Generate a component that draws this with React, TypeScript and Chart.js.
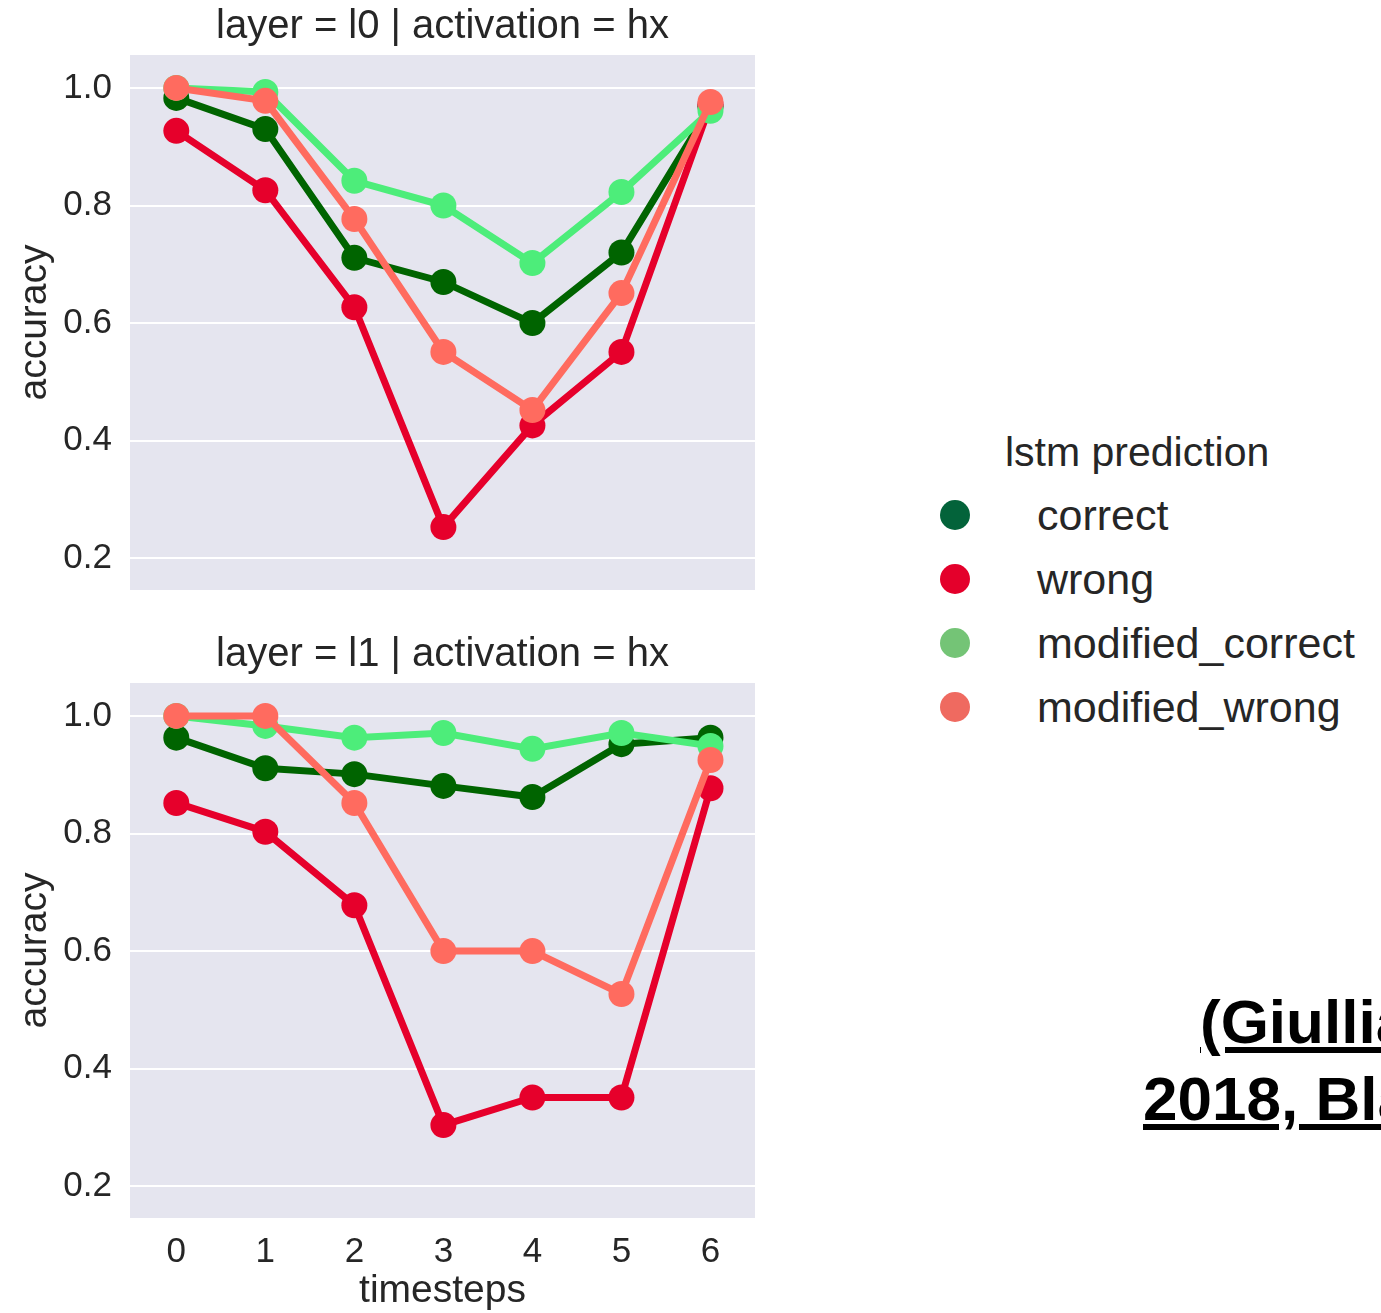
import React, { useEffect, useRef } from "react";
import { Chart, registerables } from "chart.js";

Chart.register(...registerables);

// ---------- data ----------
const timesteps = [0, 1, 2, 3, 4, 5, 6];
const seriesNames = ["correct", "wrong", "modified_correct", "modified_wrong"];
const panelTitles = ["layer = l0 | activation = hx", "layer = l1 | activation = hx"];
const yTickValues = [0.2, 0.4, 0.6, 0.8, 1.0];

// layer l0
const l0Correct = [0.983, 0.93, 0.711, 0.67, 0.6, 0.72, 0.968];
const l0Wrong = [0.927, 0.826, 0.627, 0.253, 0.426, 0.551, 0.972];
const l0ModifiedCorrect = [1.0, 0.993, 0.842, 0.8, 0.702, 0.823, 0.961];
const l0ModifiedWrong = [1.0, 0.978, 0.777, 0.551, 0.452, 0.651, 0.976];

// layer l1
const l1Correct = [0.963, 0.911, 0.901, 0.881, 0.862, 0.952, 0.963];
const l1Wrong = [0.852, 0.803, 0.678, 0.304, 0.351, 0.351, 0.877];
const l1ModifiedCorrect = [1.0, 0.983, 0.963, 0.971, 0.944, 0.971, 0.949];
const l1ModifiedWrong = [1.0, 1.0, 0.852, 0.6, 0.6, 0.527, 0.925];

const lineColors = ["#006400", "#e6002b", "#4ded7a", "#ff6b5f"];
const legendColors = ["#03633a", "#e4002b", "#74c476", "#ef6a60"];

const FONT = "'Liberation Sans', Arial, Helvetica, sans-serif";
const TEXT = "#262626";

const bgPlugin = {
  id: "plotBg",
  beforeDraw(chart: any) {
    const { ctx, chartArea: a } = chart;
    ctx.save();
    ctx.fillStyle = "#e5e5ef";
    ctx.fillRect(a.left, a.top, a.right - a.left, a.bottom - a.top);
    ctx.restore();
  },
};

function Panel(props: {
  title: string;
  series: number[][];
  showX: boolean;
  width: number;
  height: number;
  top: number;
  padBottom: number;
}) {
  const ref = useRef<HTMLCanvasElement | null>(null);
  useEffect(() => {
    if (!ref.current) return;
    const datasets = props.series.map((vals, si) => ({
      label: seriesNames[si],
      data: vals.map((v, i) => ({ x: timesteps[i], y: v })),
      borderColor: lineColors[si],
      backgroundColor: lineColors[si],
      pointBackgroundColor: lineColors[si],
      pointBorderColor: lineColors[si],
      pointRadius: 13,
      pointBorderWidth: 0,
      borderWidth: 7,
      tension: 0,
      order: 4 - si,
    }));
    const chart = new Chart(ref.current, {
      type: "line",
      data: { datasets },
      plugins: [bgPlugin],
      options: {
        animation: false,
        responsive: false,
        maintainAspectRatio: false,
        layout: { padding: { left: 0, right: 25, top: 0, bottom: props.padBottom } },
        plugins: {
          legend: { display: false },
          tooltip: { enabled: false },
          title: {
            display: true,
            text: props.title,
            fullSize: false,
            color: TEXT,
            font: { family: FONT, size: 40, weight: "normal", lineHeight: 1.2 },
            padding: { top: 3, bottom: 4 },
          },
        },
        scales: {
          x: {
            type: "linear",
            display: props.showX,
            min: -0.52,
            max: 6.5,
            afterBuildTicks: (s: any) => {
              s.ticks = timesteps.map((v) => ({ value: v }));
            },
            afterFit: (s: any) => {
              s.height = props.showX ? 95 : 0;
            },
            grid: { display: false, drawTicks: false },
            border: { display: false },
            ticks: {
              color: TEXT,
              padding: 13,
              font: { family: FONT, size: 35 },
              callback: (v: any) => String(v),
            },
            title: {
              display: true,
              text: "timesteps",
              color: TEXT,
              font: { family: FONT, size: 39, lineHeight: 1.1 },
              padding: { top: 0, bottom: 0 },
            },
          },
          y: {
            type: "linear",
            min: 0.146,
            max: 1.056,
            afterBuildTicks: (s: any) => {
              s.ticks = yTickValues.map((v) => ({ value: v }));
            },
            afterFit: (s: any) => {
              s.width = 130;
            },
            grid: { color: "#ffffff", lineWidth: 2, drawTicks: false },
            border: { display: false },
            ticks: {
              color: TEXT,
              padding: 18,
              font: { family: FONT, size: 35 },
              callback: (v: any) => Number(v).toFixed(1),
            },
            title: {
              display: true,
              text: "accuracy",
              color: TEXT,
              font: { family: FONT, size: 39, lineHeight: 1.2 },
              padding: { top: 12, bottom: 0 },
            },
          },
        },
      } as any,
    });
    return () => chart.destroy();
  }, []);
  return (
    <canvas
      ref={ref}
      width={props.width}
      height={props.height}
      style={{
        position: "absolute",
        left: 0,
        top: props.top,
        width: props.width,
        height: props.height,
      }}
    />
  );
}

function Label(props: {
  text: string;
  left: number;
  cy: number;
  size: number;
  bold?: boolean;
  underline?: boolean;
}) {
  return (
    <div
      style={{
        position: "absolute",
        left: props.left,
        top: props.cy - 35,
        height: 70,
        lineHeight: "70px",
        fontSize: props.size,
        fontFamily: FONT,
        fontWeight: props.bold ? "bold" : "normal",
        textDecoration: props.underline ? "underline" : "none",
        color: props.bold ? "#000" : TEXT,
        whiteSpace: "nowrap",
      }}
    >
      {props.text}
    </div>
  );
}

export default function App() {
  const legendYs = [515, 579, 643, 707];
  return (
    <div
      style={{
        position: "absolute",
        left: 0,
        top: 0,
        width: 1381,
        height: 1313,
        overflow: "hidden",
        background: "#fff",
      }}
    >
      <Panel
        title={panelTitles[0]}
        series={[l0Correct, l0Wrong, l0ModifiedCorrect, l0ModifiedWrong]}
        showX={false}
        width={780}
        height={629}
        top={0}
        padBottom={11}
      />
      <Panel
        title={panelTitles[1]}
        series={[l1Correct, l1Wrong, l1ModifiedCorrect, l1ModifiedWrong]}
        showX={true}
        width={780}
        height={685}
        top={628}
        padBottom={0}
      />
      <Label text="lstm prediction" left={1005} cy={452} size={41} />
      {seriesNames.map((n, i) => (
        <React.Fragment key={n}>
          <div
            style={{
              position: "absolute",
              left: 955 - 15,
              top: legendYs[i] - 15,
              width: 30,
              height: 30,
              borderRadius: 15,
              background: legendColors[i],
            }}
          />
          <Label text={n} left={1037} cy={legendYs[i]} size={43} />
        </React.Fragment>
      ))}
      <Label text="(Giullianelli et al.," left={1200} cy={1022} size={62} bold underline />
      <Label text="2018, BlackboxNLP)" left={1143} cy={1099} size={62} bold underline />
    </div>
  );
}
